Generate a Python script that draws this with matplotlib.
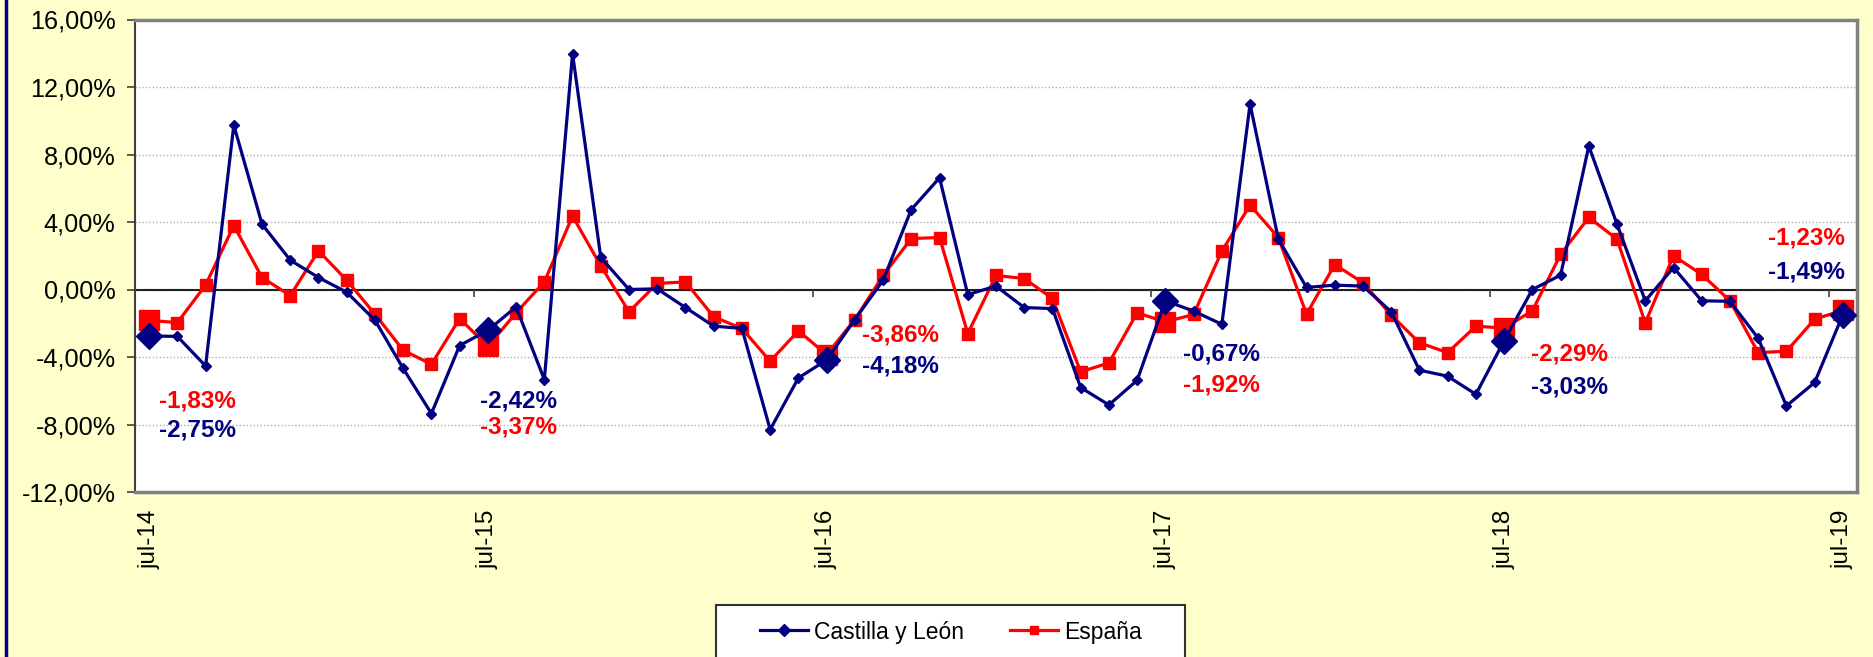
import matplotlib
matplotlib.use("Agg")
import matplotlib.pyplot as plt
from matplotlib.patches import Rectangle
import numpy as np

plt.rcParams['font.family'] = ['Liberation Sans', 'DejaVu Sans']

# ---- data ----
castilla = [-2.75, -2.78, -4.53, 9.74, 3.87, 1.74, 0.71, -0.16, -1.82, -4.68, -7.35, -3.32,
            -2.42, -1.03, -5.34, 13.97, 1.90, 0.00, 0.04, -1.07, -2.17, -2.31, -8.30, -5.24,
            -4.18, -1.78, 0.55, 4.74, 6.62, -0.30, 0.20, -1.07, -1.13, -5.81, -6.84, -5.38,
            -0.67, -1.28, -2.06, 10.99, 3.00, 0.12, 0.26, 0.20, -1.32, -4.78, -5.14, -6.21,
            -3.03, 0.00, 0.85, 8.50, 3.87, -0.67, 1.30, -0.67, -0.70, -2.89, -6.90, -5.51,
            -1.49]
espana = [-1.83, -1.96, 0.26, 3.79, 0.71, -0.36, 2.29, 0.55, -1.46, -3.60, -4.43, -1.72,
          -3.37, -1.38, 0.45, 4.35, 1.40, -1.32, 0.36, 0.45, -1.62, -2.31, -4.25, -2.45,
          -3.86, -1.78, 0.83, 3.02, 3.08, -2.61, 0.83, 0.65, -0.53, -4.88, -4.35, -1.38,
          -1.92, -1.48, 2.27, 5.00, 3.08, -1.46, 1.48, 0.40, -1.52, -3.16, -3.74, -2.17,
          -2.29, -1.26, 2.08, 4.27, 2.98, -1.98, 2.00, 0.89, -0.67, -3.74, -3.66, -1.76,
          -1.23]
series_names = ['Castilla y León', 'España']
july_idx = [0, 12, 24, 36, 48, 60]
tick_labels = ['jul-14', 'jul-15', 'jul-16', 'jul-17', 'jul-18', 'jul-19']

# ---- styling ----
NAVY = '#000080'
RED = '#FF0000'
BG = '#FFFFCC'

W, H = 1873, 657
fig = plt.figure(figsize=(W / 100, H / 100), dpi=100, facecolor=BG)
ax = fig.add_axes([135 / W, 1 - 492 / H, (1857 - 135) / W, (492 - 19.5) / H])
ax.set_facecolor('white')

x = np.arange(len(castilla))
c = np.array(castilla)
e = np.array(espana)

ax.set_xlim(-0.5, len(x) - 0.5)
ax.set_ylim(-12, 16)
yt = np.arange(-12, 17, 4)
ax.set_yticks(yt)
ax.set_yticklabels([f"{v:.2f}%".replace('.', ',') for v in yt])
ax.tick_params(axis='y', labelsize=18.2, length=6, width=1.2, color='#404040', pad=8)
ax.grid(axis='y', linestyle=(0, (1, 1.5)), color='#B0B0B0', linewidth=1.0)
ax.set_axisbelow(True)

ax.set_xticks(july_idx)
ax.set_xticklabels(tick_labels, rotation=90, fontsize=17.5, va='top')
ax.tick_params(axis='x', length=0, pad=12.5)

for s in ['top', 'right', 'bottom']:
    ax.spines[s].set_color('#808080')
    ax.spines[s].set_linewidth(2.5)
ax.spines['left'].set_color('#404040')
ax.spines['left'].set_linewidth(1.5)

# zero axis with tick marks between categories
ax.axhline(0, color='#202020', linewidth=1.5, zorder=2)
bounds = np.array(july_idx[:-1]) + 11.5
ax.vlines(bounds, -0.45, 0, color='#404040', linewidth=1.2, zorder=2)

ax.plot(x, c, color=NAVY, linewidth=2.3, marker='D', markersize=5.5, label=series_names[0], zorder=4)
ax.plot(x, e, color=RED, linewidth=2.3, marker='s', markersize=8, label=series_names[1], zorder=3)
ax.plot(july_idx, c[july_idx], linestyle='none', marker='D', markersize=13, color=NAVY, zorder=4)
ax.plot(july_idx, e[july_idx], linestyle='none', marker='s', markersize=15, color=RED, zorder=3)

# annotations (July values)
fmt = lambda v: f"{v:.2f}%".replace('.', ',')
ann = [
    (1.7, -6.62, e[0], RED), (1.7, -8.34, c[0], NAVY),
    (13.1, -6.62, c[12], NAVY), (13.1, -8.14, e[12], RED),
    (26.6, -2.71, e[24], RED), (26.6, -4.55, c[24], NAVY),
    (38.0, -3.83, c[36], NAVY), (38.0, -5.67, e[36], RED),
    (50.3, -3.83, e[48], RED), (50.3, -5.77, c[48], NAVY),
    (58.7, 3.08, e[60], RED), (58.7, 1.05, c[60], NAVY),
]
for xx, yy, v, col in ann:
    ax.text(xx, yy, fmt(v), color=col, fontsize=17.5, fontweight='bold', ha='center', va='center', zorder=6)

# left border line of the chart area
fig.add_artist(plt.Line2D([5.5 / W, 5.5 / W], [0, 1], color=NAVY, linewidth=2.5))

# legend frame (extends below the visible area, as in the original)
fig.add_artist(Rectangle((716 / W, -0.05), (1185 - 716) / W, 0.05 + (1 - 605 / H),
                         transform=fig.transFigure, facecolor='white', edgecolor='#303030',
                         linewidth=1.5, zorder=1))
leg = fig.legend(loc='center', bbox_to_anchor=(951 / W, 1 - 632 / H), ncol=2,
                 fontsize=16.5, frameon=False, handlelength=2.1,
                 columnspacing=2.0, handletextpad=0.25, borderpad=0)
leg.set_zorder(2)
for h in leg.legend_handles:
    h.set_markersize(6)

fig.savefig('out.png', dpi=100, facecolor=BG)
